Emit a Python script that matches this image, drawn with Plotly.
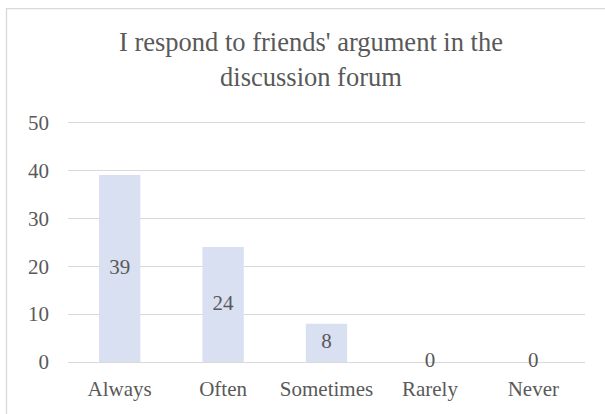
import plotly.graph_objects as go

categories = ["Always", "Often", "Sometimes", "Rarely", "Never"]
values = [39, 24, 8, 0, 0]
y_ticks = [0, 10, 20, 30, 40, 50]
title_text = "I respond to friends' argument in the<br>discussion forum"

txt = "#595959"
font_family = "Times New Roman, Liberation Serif, serif"

fig = go.Figure()
fig.add_trace(go.Bar(
    x=categories, y=values,
    marker=dict(color="#D9E0F1", line=dict(width=0)),
    hoverinfo="skip",
))
fig.add_trace(go.Scatter(
    x=categories, y=[v / 2 for v in values],
    mode="text", text=[str(v) for v in values],
    textposition="middle center",
    textfont=dict(family=font_family, size=21, color=txt),
    cliponaxis=False, hoverinfo="skip",
))

fig.update_layout(
    width=605, height=414,
    margin=dict(l=68, r=20, t=120, b=52),
    paper_bgcolor="white", plot_bgcolor="white",
    showlegend=False, bargap=0.6,
    font=dict(family=font_family, color=txt),
    title=dict(
        text=title_text, x=0.514, xanchor="center", xref="container",
        y=0.876, yanchor="middle", yref="container",
        font=dict(family=font_family, size=26.5, color=txt),
    ),
    xaxis=dict(
        showgrid=False, showline=False, zeroline=False,
        tickfont=dict(family=font_family, size=21, color=txt),
        ticklabelstandoff=12,
    ),
    yaxis=dict(
        range=[0, 50.5], tickvals=y_ticks, showgrid=True,
        gridcolor="#D9D9D9", gridwidth=1.3,
        zeroline=True, zerolinecolor="#D9D9D9", zerolinewidth=1.3,
        showline=False,
        tickfont=dict(family=font_family, size=21, color=txt),
        ticklabelstandoff=18,
    ),
    shapes=[dict(
        type="rect", xref="paper", yref="paper",
        x0=-0.119, x1=1.2, y0=-0.4, y1=1.46,
        line=dict(color="#D9D9D9", width=1.3), fillcolor="rgba(0,0,0,0)",
        layer="below",
    )],
)

fig.write_html("out.html")
